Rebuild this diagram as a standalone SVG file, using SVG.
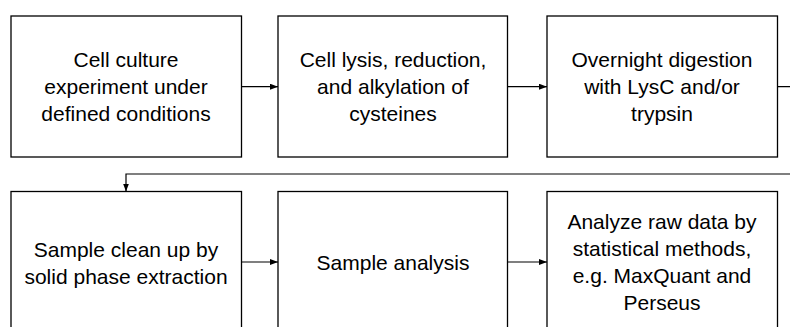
<svg xmlns="http://www.w3.org/2000/svg" width="790" height="327" viewBox="0 0 790 327">
<style>
.box{fill:#fff;stroke:#000;stroke-width:1.3}
.lbl{font-family:"Liberation Sans",Arial,sans-serif;font-size:21px;fill:#000;text-anchor:middle}
.con{fill:none;stroke:#000;stroke-width:1.2}
</style>
<defs>
<marker id="ah" markerWidth="8" markerHeight="6" refX="8" refY="3" orient="auto" markerUnits="userSpaceOnUse">
<path d="M0,0 L8,3 L0,6 Z" fill="#000"/>
</marker>
</defs>
<rect width="790" height="327" fill="#fff"/>
<g id="n1"><rect class="box" x="11" y="16" width="230.5" height="141"/>
<text class="lbl"><tspan x="126" y="67">Cell culture</tspan><tspan x="126" y="94">experiment under</tspan><tspan x="126" y="121">defined conditions</tspan></text></g>
<g id="n2"><rect class="box" x="278" y="16" width="229.5" height="141"/>
<text class="lbl"><tspan x="393" y="67">Cell lysis, reduction,</tspan><tspan x="393" y="94">and alkylation of</tspan><tspan x="393" y="121">cysteines</tspan></text></g>
<g id="n3"><rect class="box" x="547" y="16" width="230.5" height="141"/>
<text class="lbl"><tspan x="662" y="67">Overnight digestion</tspan><tspan x="662" y="94">with LysC and/or</tspan><tspan x="662" y="121">trypsin</tspan></text></g>
<g id="n4"><rect class="box" x="11" y="191.5" width="230.5" height="141"/>
<text class="lbl"><tspan x="126" y="257">Sample clean up by</tspan><tspan x="126" y="284">solid phase extraction</tspan></text></g>
<g id="n5"><rect class="box" x="278" y="191.5" width="229.5" height="141"/>
<text class="lbl"><tspan x="393" y="270">Sample analysis</tspan></text></g>
<g id="n6"><rect class="box" x="547" y="191.5" width="230.5" height="141"/>
<text class="lbl"><tspan x="662" y="229">Analyze raw data by</tspan><tspan x="662" y="256">statistical methods,</tspan><tspan x="662" y="283">e.g. MaxQuant and</tspan><tspan x="662" y="310">Perseus</tspan></text></g>
<g id="connectors">
<path class="con" d="M241.5,86.7 H278" marker-end="url(#ah)"/>
<path class="con" d="M507.5,86.7 H547" marker-end="url(#ah)"/>
<path class="con" d="M777.5,86.7 H796 V174 H126 V191.5" marker-end="url(#ah)"/>
<path class="con" d="M241.5,262 H278" marker-end="url(#ah)"/>
<path class="con" d="M507.5,262 H547" marker-end="url(#ah)"/>
</g>
</svg>
